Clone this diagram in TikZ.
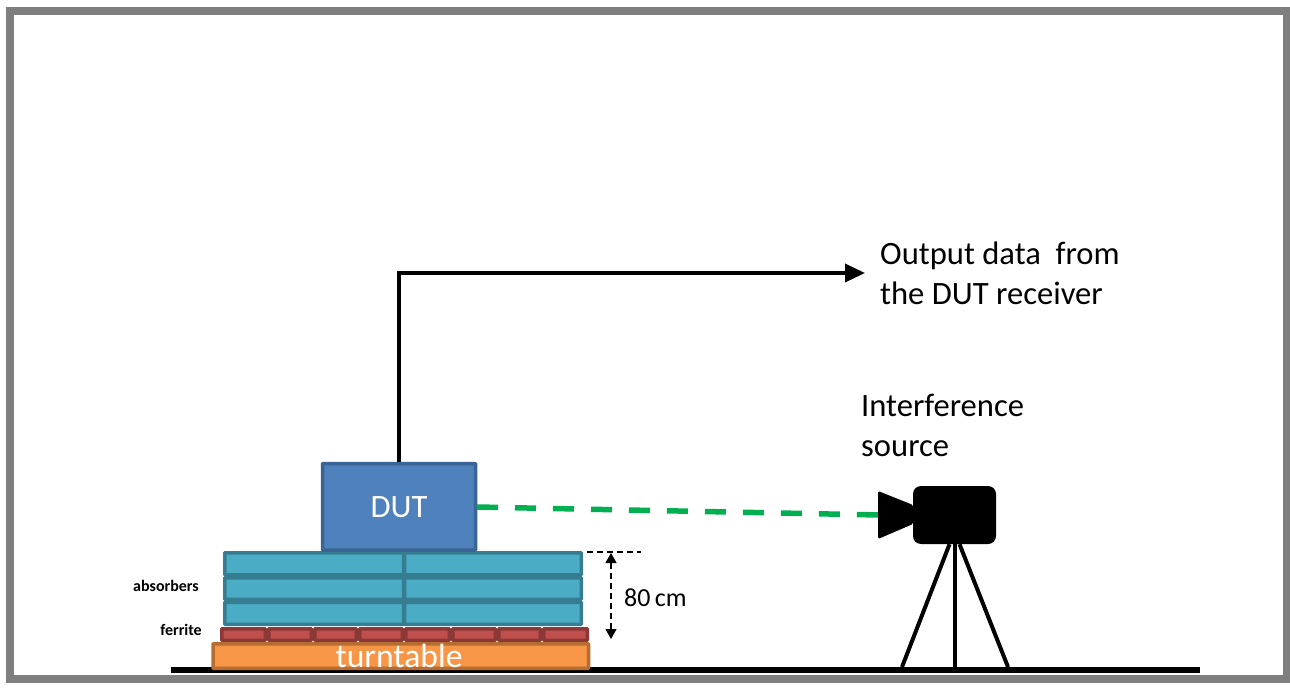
\documentclass[tikz,border=0pt]{standalone}
\usepackage{fontspec}
\setmainfont{Carlito}
\usetikzlibrary{arrows.meta}

\definecolor{frameGrey}{HTML}{7F7F7F}
\definecolor{dutFill}{HTML}{4F81BD}
\definecolor{dutLine}{HTML}{3A6494}
\definecolor{absFill}{HTML}{4BACC6}
\definecolor{absLine}{HTML}{367D91}
\definecolor{ferFill}{HTML}{C0504D}
\definecolor{ferLine}{HTML}{8C3836}
\definecolor{turnFill}{HTML}{F79646}
\definecolor{turnLine}{HTML}{B66D31}
\definecolor{beamGreen}{HTML}{00B050}

\tikzset{
	absorber/.style={draw=absLine, fill=absFill, line width=3.5pt, rounded corners=0.5pt},
	brick/.style={draw=ferLine, fill=ferFill, line width=3.5pt, rounded corners=0.5pt},
	bigtext/.style={inner sep=0pt, align=left, font=\fontsize{32.6}{40}\selectfont},
	smalltext/.style={inner sep=0pt, font=\fontsize{16}{18}\selectfont\bfseries},
	leg/.style={line width=4pt, black},
	dimtip/.tip={Stealth[length=10pt,width=11pt,inset=0pt]},
}

\begin{document}
\begin{tikzpicture}[x=1pt,y=-1pt]

	\useasboundingbox (0,0) rectangle (1290,695);

	\coordinate (camNose) at (879,515);
	\coordinate (beamStart) at (477,507);
	\coordinate (floorL) at (171,670);
	\coordinate (floorR) at (1200,670);

	\draw [frameGrey, line width=8pt] (10,11) rectangle (1286.5,678.5);
	\draw [black, line width=6pt] (floorL) -- (floorR);

	\begin{scope}
		\draw [absorber] (224.75,552.75) rectangle (403.5,574.75);
		\draw [absorber] (404.5,552.75) rectangle (581.25,574.75);
		\draw [absorber] (224.75,577.75) rectangle (403.5,599.25);
		\draw [absorber] (404.5,577.75) rectangle (581.25,599.25);
		\draw [absorber] (224.75,602.25) rectangle (403.5,624.25);
		\draw [absorber] (404.5,602.25) rectangle (581.25,624.25);
	\end{scope}

	\begin{scope}
		\draw [brick] (221.75,628.75) rectangle (265.25,640.25);
		\draw [brick] (268.75,628.75) rectangle (311.25,640.25);
		\draw [brick] (314.75,628.75) rectangle (356.25,640.25);
		\draw [brick] (359.75,628.75) rectangle (402.25,640.25);
		\draw [brick] (405.75,628.75) rectangle (449.25,640.25);
		\draw [brick] (452.75,628.75) rectangle (495.25,640.25);
		\draw [brick] (498.75,628.75) rectangle (540.25,640.25);
		\draw [brick] (543.75,628.75) rectangle (587.25,640.25);
	\end{scope}

	\node (turntable) [draw=turnLine, fill=turnFill, line width=3.5pt, rounded corners=0.5pt, minimum width=375.5pt, minimum height=24.5pt, inner sep=0pt] at (400.75,656) {};
	\node (turnlabel) [text=white, inner sep=0pt, font=\fontsize{33.6}{35}\selectfont] at (399,656) {turntable};
	\node (dut) [draw=dutLine, fill=dutFill, line width=3.5pt, rounded corners=0.5pt, minimum width=153pt, minimum height=86.5pt, inner sep=0pt, text=white, font=\fontsize{32.6}{35}\selectfont] at (399,506.75) {DUT};

	\node (output) [bigtext, anchor=west] at (880,273) {Output data\ \ from\\the DUT receiver};
	\node (source) [bigtext, anchor=west] at (861,425) {Interference\\source};
	\node (absorbers) [smalltext, anchor=east] at (199,586) {absorbers};
	\node (ferrite) [smalltext, anchor=east] at (202,630) {ferrite};
	\node (height) [anchor=west, inner sep=0pt, font=\fontsize{26}{28}\selectfont] at (624,598) {80\,cm};

	\draw [-{Stealth[length=20pt,width=18pt,inset=0pt]}, line width=3.5pt] (dut.north) |- ([xshift=-15pt]output.west);

	\draw [beamGreen, line width=5.5pt, dash pattern=on 21pt off 17pt] (beamStart) -- (camNose);

	\draw [line width=1.2pt, dash pattern=on 6pt off 4pt] (587,552) -- (641,552);
	\draw [dimtip-dimtip, line width=1.2pt, dash pattern=on 6pt off 4pt] (611,553) -- (611,639);

	\fill [black, rounded corners=1.5pt] (913,505) -- (878,491) -- (878,539) -- (913,524) -- cycle;
	\node (body) [fill=black, rounded corners=8pt, minimum width=83pt, minimum height=58pt, inner sep=0pt] at (954.5,515) {};
	\draw [leg] (body.south) ++(-5,0) -- (902,667);
	\draw [leg] (body.south) -- (954.5,667);
	\draw [leg] (body.south) ++(5,0) -- (1008,667);

\end{tikzpicture}
\end{document}
